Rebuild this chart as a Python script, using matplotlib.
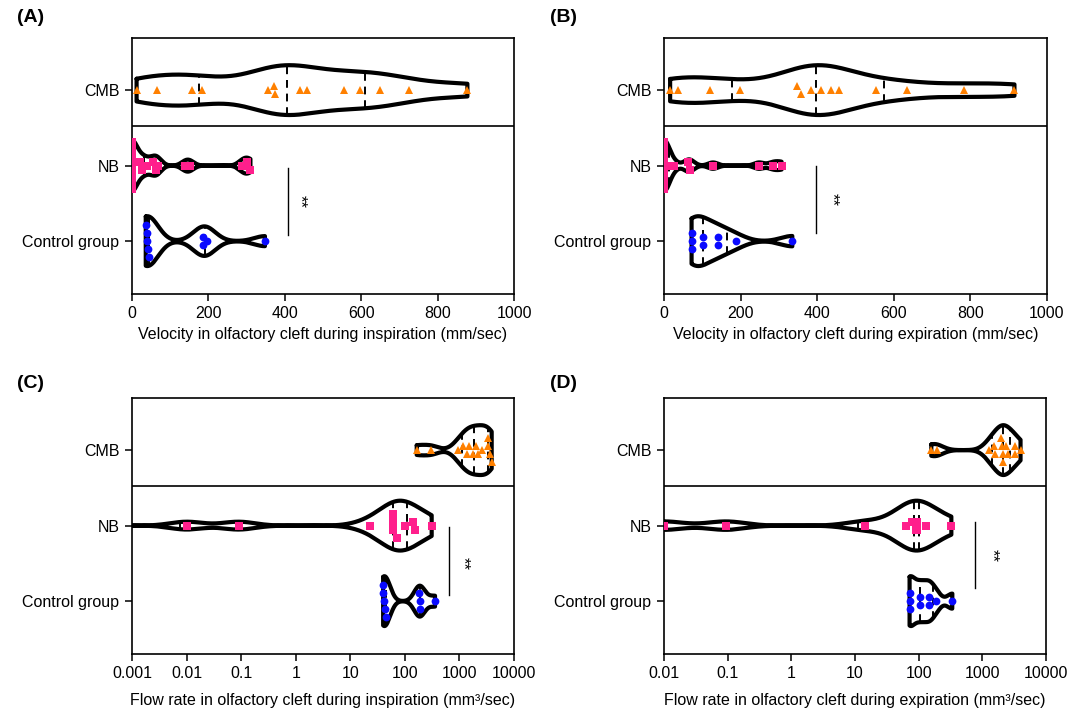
import numpy as np
import matplotlib
matplotlib.use("Agg")
import matplotlib.pyplot as plt

plt.rcParams['font.family'] = ['Liberation Sans', 'DejaVu Sans']
plt.rcParams['font.size'] = 11

categories = ["Control group", "NB", "CMB"]

# (A) Velocity in olfactory cleft during inspiration (mm/sec)
a_cmb = [12, 66, 156, 182, 355, 373, 374, 440, 458, 555, 597, 648, 724, 878]
a_nb = [0, 0, 0, 0, 0, 0, 0, 22, 25, 38, 55, 63, 68, 140, 152, 288, 300, 310]
a_ctrl = [36, 43, 38, 45, 39, 185, 186, 197, 348]

# (B) Velocity in olfactory cleft during expiration (mm/sec)
b_cmb = [16, 36, 120, 198, 348, 357, 385, 409, 436, 458, 553, 634, 782, 915]
b_nb = [0, 0, 0, 0, 0, 0, 0, 12, 26, 63, 68, 128, 248, 285, 307]
b_ctrl = [72, 72, 72, 101, 101, 142, 142, 187, 335]

# (C) Flow rate in olfactory cleft during inspiration (mm3/sec)
c_cmb = [165, 301, 953, 1178, 1361, 1517, 1754, 2014, 2218, 2559, 3296, 3296, 3631, 3900]
c_nb = [0.0001, 0.0001, 0.0001, 0.01, 0.09, 23, 60, 60, 60, 71, 102, 139, 153, 310]
c_ctrl = [40, 40, 42, 44, 46, 184, 187, 190, 357]

# (D) Flow rate in olfactory cleft during expiration (mm3/sec)
d_cmb = [158, 196, 1268, 1500, 1556, 1982, 2056, 2099, 2099, 2371, 2518, 3206, 3206, 3981]
d_nb = [0.01, 0.094, 14.6, 64, 79, 90, 94, 94, 129, 326]
d_ctrl = [72, 72, 72, 104, 104, 144, 144, 189, 338]

lin_ticks = [0, 200, 400, 600, 800, 1000]
logc_ticks = [0.001, 0.01, 0.1, 1, 10, 100, 1000, 10000]
logc_labels = ["0.001", "0.01", "0.1", "1", "10", "100", "1000", "10000"]
logd_ticks = [0.01, 0.1, 1, 10, 100, 1000, 10000]
logd_labels = ["0.01", "0.1", "1", "10", "100", "1000", "10000"]

C_CMB = '#FF8000'
C_NB = '#FF1F8C'
C_CTRL = '#0A0AFF'

W, H = 1083, 714
fig = plt.figure(figsize=(W / 100, H / 100), dpi=100)


def axrect(l, r, t, b):
    return [l / W, 1 - b / H, (r - l) / W, (b - t) / H]


def draw_violin(ax, data, pos, bw, log, width=0.66):
    data = np.asarray(data, float)
    td = np.log10(data) if log else data.copy()
    grid = np.linspace(td.min(), td.max(), 400)
    dens = np.exp(-0.5 * ((grid[:, None] - td[None, :]) / bw) ** 2).sum(axis=1)
    half = dens / dens.max() * width / 2
    xs = 10 ** grid if log else grid
    ax.fill_between(xs, pos - half, pos + half, color='white', zorder=2)
    px = np.r_[xs, xs[::-1], xs[0]]
    py = np.r_[pos + half, (pos - half)[::-1], pos + half[0]]
    ax.plot(px, py, color='black', lw=3.0, solid_joinstyle='round',
            solid_capstyle='round', zorder=3)
    qs = np.percentile(data, [25, 50, 75], method='weibull')
    for q in qs:
        tq = np.log10(q) if log else q
        if tq < grid[0] or tq > grid[-1]:
            continue
        h = np.interp(tq, grid, half)
        ax.plot([q, q], [pos - h, pos + h], color='black', lw=1.4,
                dashes=(4, 3), zorder=3)


def draw_points(ax, data, pos, marker, color, ms, tol_px=4.0, step=0.105):
    data = np.asarray(data, float)
    xpx = ax.transData.transform(np.c_[data, np.full(len(data), float(pos))])[:, 0]
    order = np.argsort(xpx, kind='stable')
    bins, cur, start = [], [], None
    for i in order:
        if start is None or xpx[i] - start > tol_px:
            if cur:
                bins.append(cur)
            cur, start = [i], xpx[i]
        else:
            cur.append(i)
    if cur:
        bins.append(cur)
    offs = np.zeros(len(data))
    for b in bins:
        k = len(b)
        for j, i in enumerate(b):
            offs[i] = ((k - 1) / 2 - j) * step
    ax.plot(data, pos + offs, linestyle='none', marker=marker, color=color,
            ms=ms, mew=0, zorder=4)


def setup(ax, log, ticks, labels, xlim, xlabel, lpad):
    if log:
        ax.set_xscale('log')
    ax.set_xlim(*xlim)
    ax.set_ylim(-0.7, 2.69)
    ax.set_xticks(ticks)
    ax.set_xticklabels(labels)
    ax.xaxis.set_minor_locator(matplotlib.ticker.NullLocator())
    ax.set_yticks([0, 1, 2])
    ax.set_yticklabels(categories)
    ax.tick_params(axis='both', direction='out', length=5, width=1.1,
                   labelsize=11.5, pad=4)
    for s in ax.spines.values():
        s.set_linewidth(1.2)
    ax.set_xlabel(xlabel, fontsize=11.5, labelpad=lpad)
    ax.axhline(1.52, color='black', lw=1.2, zorder=1)


panels = [
    dict(rect=axrect(132, 514, 38, 294), log=False, ticks=lin_ticks,
         labels=[str(t) for t in lin_ticks], xlim=(0, 1000),
         xlabel="Velocity in olfactory cleft during inspiration (mm/sec)",
         data=(a_ctrl, a_nb, a_cmb), bws=(28, 13, 85), lpad=4,
         sig=(408, 0.08, 0.97, 440, 0.52), letter="(A)", lpos=(17, 18)),
    dict(rect=axrect(664, 1047, 38, 294), log=False, ticks=lin_ticks,
         labels=[str(t) for t in lin_ticks], xlim=(0, 1000),
         xlabel="Velocity in olfactory cleft during expiration (mm/sec)",
         data=(b_ctrl, b_nb, b_cmb), bws=(30, 13, 85), lpad=4,
         sig=(397, 0.11, 0.99, 438, 0.55), letter="(B)", lpos=(550, 18)),
    dict(rect=axrect(132, 514, 398, 654), log=True, ticks=logc_ticks,
         labels=logc_labels, xlim=(0.001, 10000),
         xlabel="Flow rate in olfactory cleft during inspiration (mm³/sec)",
         data=(c_ctrl, c_nb, c_cmb), bws=(0.1, 0.3, 0.14), lpad=8,
         sig=(653, 0.08, 0.98, 1177, 0.5), letter="(C)", lpos=(17, 383)),
    dict(rect=axrect(664, 1046, 398, 654), log=True, ticks=logd_ticks,
         labels=logd_labels, xlim=(0.01, 10000),
         xlabel="Flow rate in olfactory cleft during expiration (mm³/sec)",
         data=(d_ctrl, d_nb, d_cmb), bws=(0.08, 0.3, 0.12), lpad=8,
         sig=(760, 0.17, 1.05, 1432, 0.6), letter="(D)", lpos=(550, 383)),
]

styles = [('o', C_CTRL, 5.6), ('s', C_NB, 5.2), ('^', C_CMB, 6.0)]

for p in panels:
    ax = fig.add_axes(p['rect'])
    setup(ax, p['log'], p['ticks'], p['labels'], p['xlim'], p['xlabel'], p['lpad'])
    for pos, (vals, bw, st) in enumerate(zip(p['data'], p['bws'], styles)):
        draw_violin(ax, vals, pos, bw, p['log'])
        draw_points(ax, vals, pos, st[0], st[1], st[2])
    sx, y0, y1, tx, ty = p['sig']
    ax.plot([sx, sx], [y0, y1], color='black', lw=1.0, zorder=2)
    ax.text(tx, ty, "**", rotation=270, ha='center', va='center', fontsize=12)
    fig.text(p['lpos'][0] / W, 1 - p['lpos'][1] / H, p['letter'],
             fontsize=14, fontweight='bold', ha='left', va='center')

fig.savefig("out.png", dpi=100)
